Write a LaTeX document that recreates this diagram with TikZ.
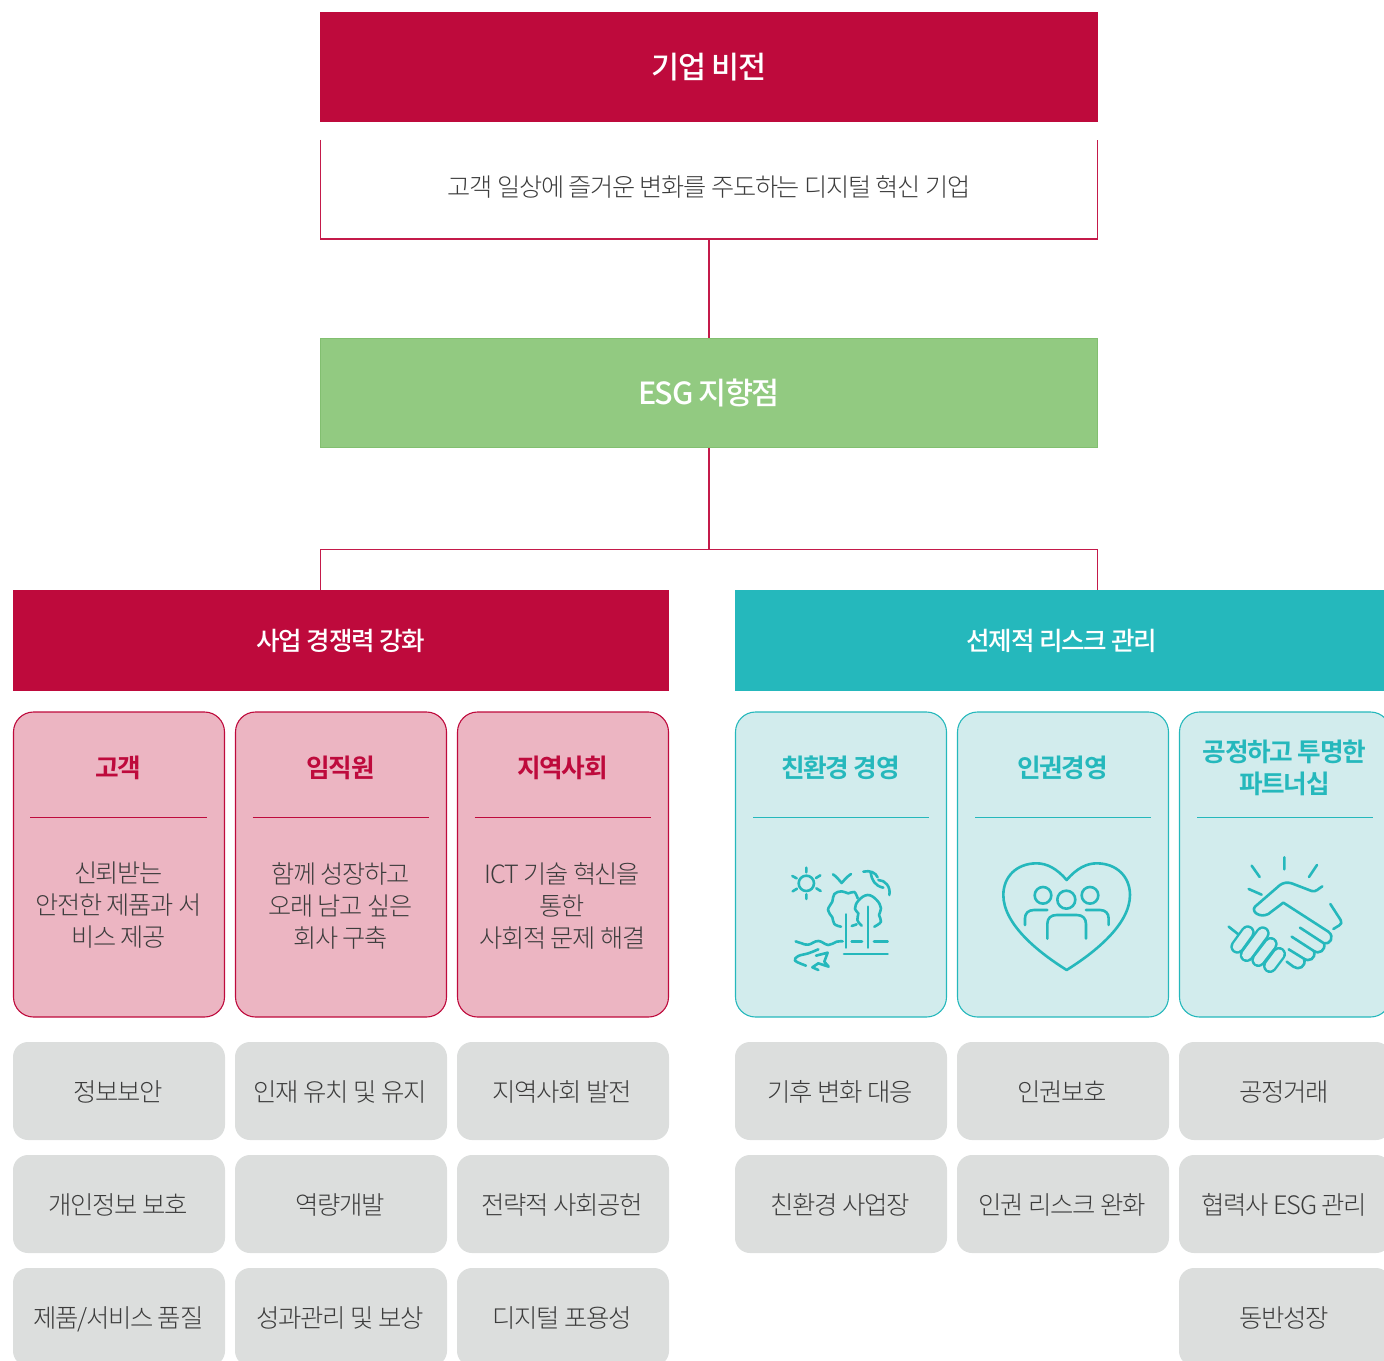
\documentclass[tikz,border=0pt]{standalone}
\usepackage{fontspec}
\setmainfont{Noto Sans CJK KR Light}[LetterSpace=-5,BoldFont={Noto Sans CJK KR Bold}]
\newfontfamily\krmed{Noto Sans CJK KR Medium}[LetterSpace=-5]
\definecolor{cred}{HTML}{BE0A3C}
\definecolor{cline}{HTML}{C41A4A}
\definecolor{cgreen}{HTML}{92CA81}
\definecolor{cgreenb}{HTML}{82BF70}
\definecolor{cteal}{HTML}{25B8BC}
\definecolor{cpink}{HTML}{ECB5C2}
\definecolor{cltteal}{HTML}{D2ECED}
\definecolor{cgray}{HTML}{DCDEDD}
\definecolor{ctext}{HTML}{3C3C3C}
\tikzset{
  banner/.style={rectangle,inner sep=0pt,minimum width=778pt,minimum height=110pt,text=white,font=\krmed\fontsize{30.5}{38}\selectfont},
  visionbox/.style={rectangle,inner sep=0pt,minimum width=777pt,minimum height=99pt,text=ctext,font=\fontsize{25.2}{32}\selectfont},
  pillar/.style={rectangle,inner sep=0pt,minimum height=101pt,text=white,font=\krmed\fontsize{25.6}{32}\selectfont},
  card/.style={rectangle,rounded corners=20pt,inner sep=0pt,minimum width=211pt,minimum height=305pt,line width=1.1pt},
  redcard/.style={card,draw=cred,fill=cpink},
  tealcard/.style={card,draw=cteal,fill=cltteal},
  cardtitle/.style={inner sep=0pt,align=center,font=\bfseries\fontsize{25.7}{32}\selectfont},
  cardbody/.style={inner sep=0pt,align=center,text=ctext,font=\fontsize{25.2}{32}\selectfont},
  graybox/.style={rectangle,rounded corners=15pt,inner sep=0pt,minimum width=212pt,minimum height=98pt,fill=cgray,text=ctext,text depth=0pt,font=\fontsize{25.4}{32}\selectfont},
  conn/.style={draw=cline,line width=1.5pt},
  reddiv/.style={draw=cred,line width=1pt},
  tealdiv/.style={draw=cteal,line width=1pt},
  ico/.style={draw=cteal,line width=2.6pt,line cap=round,line join=round},
}
\begin{document}
\begin{tikzpicture}[x=1pt,y=-1pt]
\clip (0,0) rectangle (1384,1360);
% top column
\node[banner,fill=cred] (vision) at (709,67) {\raisebox{-1pt}{기업 비전}};
\node[visionbox] (visiontext) at (709,189.5) {\raisebox{7.5pt}{고객 일상에 즐거운 변화를 주도하는 디지털 혁신 기업}};
\draw[conn] (visiontext.north west) -- (visiontext.south west) -- (visiontext.south east) -- (visiontext.north east);
\node[banner,fill=cgreen,draw=cgreenb,line width=.8pt,minimum width=777pt,minimum height=109pt] (esg) at (709,393) {\raisebox{-2.5pt}{ESG 지향점}};
\draw[conn] (visiontext.south) -- (esg.north);
% pillars
\node[pillar,fill=cred,minimum width=656pt] (biz) at (341,640.5) {\raisebox{-1.5pt}{사업 경쟁력 강화}};
\node[pillar,fill=cteal,minimum width=654pt] (risk) at (1062,640.5) {\raisebox{-1.5pt}{선제적 리스크 관리}};
\coordinate (busm) at (709,549.5);
\coordinate (busl) at (320.5,549.5);
\coordinate (busr) at (1097.5,549.5);
\draw[conn] (esg.south) -- (busm);
\draw[conn] (biz.north -| busl) -- (busl) -- (busr) -- (risk.north -| busr);
% cards
\node[redcard] (c1) at (119,864.5) {};
\node[redcard] (c2) at (341,864.5) {};
\node[redcard] (c3) at (563,864.5) {};
\node[tealcard] (c4) at (841,864.5) {};
\node[tealcard] (c5) at (1063,864.5) {};
\node[tealcard] (c6) at (1285,864.5) {};
\node[cardtitle,text=cred] (t1) at (118.5,767.7) {고객};
\node[cardtitle,text=cred] (t2) at (340.5,767.7) {임직원};
\node[cardtitle,text=cred] (t3) at (562.5,767.7) {지역사회};
\node[cardtitle,text=cteal] (t4) at (840.5,767.7) {친환경 경영};
\node[cardtitle,text=cteal] (t5) at (1062.5,767.7) {인권경영};
\node[cardtitle,text=cteal] (t6) at (1284.5,767.7) {공정하고 투명한\\파트너십};
\draw[reddiv] (30,817.5) -- (207,817.5);
\draw[reddiv] (252.5,817.5) -- (429,817.5);
\draw[reddiv] (474.5,817.5) -- (651,817.5);
\draw[tealdiv] (753,817.5) -- (929,817.5);
\draw[tealdiv] (975,817.5) -- (1151,817.5);
\draw[tealdiv] (1197,817.5) -- (1373,817.5);
\node[cardbody] (b1) at (118.5,905.5) {신뢰받는\\안전한 제품과 서\\비스 제공};
\node[cardbody] (b2) at (340.5,905.5) {함께 성장하고\\오래 남고 싶은\\회사 구축};
\node[cardbody] (b3) at (562.5,905.5) {ICT 기술 혁신을\\통한\\사회적 문제 해결};
% gray boxes
\tikzset{gt/.style={text=ctext,inner sep=0pt,font=\fontsize{25.4}{32}\selectfont}}
\node[graybox] (g11) at (119,1091) {\hspace{-1.5pt}\raisebox{-.5pt}{정보보안}};
\node[graybox] (g12) at (119,1204) {\hspace{-1.5pt}\raisebox{-.5pt}{개인정보 보호}};
\node[graybox] (g13) at (119,1317) {\hspace{-1.5pt}\raisebox{-.5pt}{제품/서비스 품질}};
\node[graybox] (g21) at (341,1091) {\hspace{-1.5pt}\raisebox{-.5pt}{인재 유치 및 유지}};
\node[graybox] (g22) at (341,1204) {\hspace{-1.5pt}\raisebox{-.5pt}{역량개발}};
\node[graybox] (g23) at (341,1317) {\hspace{-1.5pt}\raisebox{-.5pt}{성과관리 및 보상}};
\node[graybox] (g31) at (563,1091) {\hspace{-1.5pt}\raisebox{-.5pt}{지역사회 발전}};
\node[graybox] (g32) at (563,1204) {\hspace{-1.5pt}\raisebox{-.5pt}{전략적 사회공헌}};
\node[graybox] (g33) at (563,1317) {\hspace{-1.5pt}\raisebox{-.5pt}{디지털 포용성}};
\node[graybox] (g41) at (841,1091) {\hspace{-1.5pt}\raisebox{-.5pt}{기후 변화 대응}};
\node[graybox] (g42) at (841,1204) {\hspace{-1.5pt}\raisebox{-.5pt}{친환경 사업장}};
\node[graybox] (g51) at (1063,1091) {\hspace{-1.5pt}\raisebox{-.5pt}{인권보호}};
\node[graybox] (g52) at (1063,1204) {\hspace{-1.5pt}\raisebox{-.5pt}{인권 리스크 완화}};
\node[graybox] (g61) at (1285,1091) {\hspace{-1.5pt}\raisebox{-.5pt}{공정거래}};
\node[graybox] (g62) at (1285,1204) {\hspace{-1.5pt}\raisebox{-.5pt}{협력사 ESG 관리}};
\node[graybox] (g63) at (1285,1317) {\hspace{-1.5pt}\raisebox{-.5pt}{동반성장}};
% icon: environment
\begin{scope}[shift={(735,830)},x=.3333pt,y=-.3333pt,ico]
\draw (214,160) circle[radius=23];
\draw (214,113)--(214,127) (214,193)--(214,207) (172,138)--(185,145) (256,136)--(243,144) (173,184)--(186,176) (257,183)--(244,175);
\draw (294,133) .. controls (305,140) and (312,150) .. (320,159) .. controls (328,150) and (336,140) .. (348,132);
\draw (385,125) .. controls (405,120) and (422,128) .. (428,142);
\draw (407,128) .. controls (410,150) and (420,168) .. (445,173);
\draw (430,150) .. controls (450,150) and (468,170) .. (463,195);
\draw plot[smooth,tension=.7] coordinates {(318,290)(298,282)(292,262)(279,240)(292,215)(298,192)(320,184)(340,190)(358,186)(368,205)};
\draw (350,288)--(365,283);
\draw plot[smooth,tension=.7] coordinates {(380,287)(367,270)(370,250)(360,237)(370,212)(398,195)(425,210)(438,235)(432,255)(438,275)(418,290)};
\draw (333,253)--(333,353) (399,230)--(399,353);
\draw plot[smooth,tension=.7] coordinates {(182,334)(200,340)(220,344)(250,333)(280,345)(305,335)(323,334)};
\draw (350,334)--(381,334) (417,334)--(458,334) (327,372)--(458,372);
\draw plot[smooth,tension=.6] coordinates {(213,407)(180,392)(190,378)(220,370)(250,358)};
\draw (243,377)--(278,368)--(268,395)--(281,410)--(250,400)--(232,412)--(250,420);
\end{scope}
% icon: heart
\begin{scope}[shift={(960,830)},x=.3333pt,y=-.3333pt,ico]
\draw (320,150) .. controls (290,115) and (260,100) .. (230,100) .. controls (170,100) and (130,140) .. (130,195) .. controls (130,285) and (240,370) .. (320,420) .. controls (400,370) and (510,285) .. (510,195) .. controls (510,140) and (470,100) .. (410,100) .. controls (380,100) and (350,115) .. (320,150) -- cycle;
\draw (249,196) circle[radius=25] (319,209) circle[radius=27] (390,196) circle[radius=25];
\draw (195,285) -- (195,265) .. controls (195,250) and (205,240) .. (222,240) -- (262,240);
\draw (446,285) -- (446,265) .. controls (446,250) and (436,240) .. (420,240) -- (378,240);
\draw (262,326) -- (262,282) .. controls (262,265) and (272,255) .. (290,255) -- (350,255) .. controls (368,255) and (378,265) .. (378,282) -- (378,326);
\end{scope}
% icon: handshake
\begin{scope}[shift={(1180,830)},x=.3333pt,y=-.3333pt,ico]
\draw (313,82)--(313,118) (215,107)--(239,141) (411,105)--(387,141) (206,177)--(245,194);
\draw (427,169) .. controls (415,176) and (408,187) .. (395,183) -- (335,160) .. controls (322,156) and (310,158) .. (300,165) -- (225,230) .. controls (212,245) and (240,265) .. (265,252) -- (310,218) -- (445,305) .. controls (465,320) and (450,345) .. (432,340) -- (360,293);
\draw (432,340) .. controls (438,360) and (418,375) .. (400,362) -- (335,320);
\draw (402,364) .. controls (408,385) and (388,398) .. (370,385) -- (326,358);
\draw (372,387) .. controls (380,410) and (355,422) .. (340,410) -- (320,395);
\draw (451,222) -- (482,270) .. controls (486,278) and (484,282) .. (478,286) -- (460,297);
\draw (146,290)--(175,313);
\foreach \xa/\ya/\xb/\yb in {297/372/270/408,272/342/235/390,248/310/200/375,203/307/172/350}{
  \draw[line width=14pt,draw=cteal] (\xa,\ya)--(\xb,\yb);
  \draw[line width=9.2pt,draw=cltteal] (\xa,\ya)--(\xb,\yb);
}
\end{scope}
\end{tikzpicture}
\end{document}
